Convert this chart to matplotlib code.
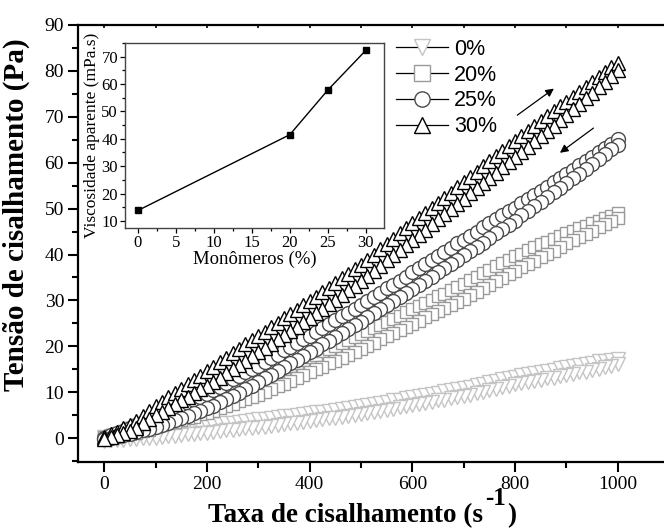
import numpy as np
import matplotlib
matplotlib.use("Agg")
import matplotlib.pyplot as plt
from matplotlib.lines import Line2D
from matplotlib.ticker import MultipleLocator

plt.rcParams['font.family'] = 'Liberation Serif'

# shear rate grid (s^-1), same points for up and down sweeps
taxa = np.linspace(0, 1000, 81)

# shear stress (Pa); one row per 100 s^-1
t0_up = [0.3, 0.4, 0.6, 0.7, 0.8, 1.0, 1.1, 1.3,
         1.4, 1.6, 1.8, 1.9, 2.1, 2.3, 2.4, 2.6,
         2.8, 2.9, 3.1, 3.3, 3.4, 3.6, 3.8, 3.9,
         4.1, 4.2, 4.4, 4.6, 4.8, 4.9, 5.1, 5.3,
         5.4, 5.6, 5.8, 6.0, 6.2, 6.4, 6.5, 6.7,
         6.9, 7.2, 7.4, 7.7, 7.9, 8.2, 8.4, 8.7,
         8.9, 9.2, 9.4, 9.7, 9.9, 10.2, 10.4, 10.7,
         10.9, 11.2, 11.5, 11.8, 12.2, 12.5, 12.8, 13.1,
         13.4, 13.7, 13.9, 14.2, 14.4, 14.7, 14.9, 15.2,
         15.4, 15.7, 15.9, 16.2, 16.4, 16.7, 16.9, 17.1,
         17.3]
t0_down = [-0.6, -0.5, -0.4, -0.3, -0.2, -0.1, 0.0, 0.1,
           0.1, 0.2, 0.4, 0.5, 0.6, 0.8, 0.9, 1.1,
           1.2, 1.4, 1.5, 1.7, 1.8, 2.0, 2.1, 2.3,
           2.4, 2.5, 2.7, 2.9, 3.0, 3.2, 3.4, 3.5,
           3.7, 3.9, 4.1, 4.3, 4.4, 4.6, 4.8, 5.0,
           5.2, 5.4, 5.7, 5.9, 6.2, 6.4, 6.7, 6.9,
           7.2, 7.4, 7.7, 7.9, 8.2, 8.4, 8.7, 8.9,
           9.2, 9.5, 9.8, 10.1, 10.4, 10.8, 11.1, 11.4,
           11.7, 12.0, 12.2, 12.5, 12.7, 13.0, 13.2, 13.5,
           13.7, 14.0, 14.3, 14.5, 14.8, 15.1, 15.4, 15.7,
           16.1]

t20_up = [0.2, 0.6, 1.1, 1.6, 2.2, 2.8, 3.4, 3.9,
          4.5, 5.0, 5.6, 6.1, 6.6, 7.1, 7.6, 8.1,
          8.5, 9.0, 9.5, 10.0, 10.5, 11.0, 11.5, 12.0,
          12.6, 13.2, 13.9, 14.5, 15.1, 15.7, 16.4, 17.0,
          17.6, 18.2, 18.9, 19.5, 20.1, 20.7, 21.4, 22.0,
          22.6, 23.3, 24.0, 24.7, 25.4, 26.0, 26.7, 27.4,
          28.1, 28.8, 29.5, 30.2, 30.9, 31.5, 32.2, 32.9,
          33.6, 34.4, 35.1, 35.9, 36.6, 37.4, 38.1, 38.9,
          39.6, 40.2, 40.9, 41.6, 42.2, 42.8, 43.4, 44.0,
          44.6, 45.2, 45.7, 46.3, 46.8, 47.3, 47.9, 48.4,
          49.0]
t20_down = [-0.1, 0.1, 0.3, 0.6, 0.9, 1.2, 1.5, 1.8,
            2.5, 2.8, 3.2, 3.5, 3.9, 4.3, 4.7, 5.2,
            5.5, 6.0, 6.5, 7.0, 7.5, 8.0, 8.5, 9.0,
            9.4, 10.0, 10.6, 11.3, 11.9, 12.5, 13.2, 13.8,
            14.4, 15.0, 15.6, 16.3, 16.9, 17.5, 18.2, 18.8,
            19.4, 20.1, 20.8, 21.5, 22.2, 22.8, 23.5, 24.2,
            24.9, 25.6, 26.3, 27.0, 27.7, 28.3, 29.0, 29.7,
            30.4, 31.2, 31.9, 32.7, 33.4, 34.2, 34.9, 35.7,
            36.4, 37.2, 37.9, 38.6, 39.4, 40.1, 40.8, 41.6,
            42.4, 43.1, 43.8, 44.5, 45.2, 45.9, 46.6, 47.3,
            48.0]

t25_up = [0.1, 0.6, 1.1, 1.6, 2.2, 2.8, 3.4, 3.9,
          4.5, 5.1, 5.8, 6.5, 7.1, 7.7, 8.4, 9.0,
          9.6, 10.4, 11.2, 12.0, 12.8, 13.5, 14.3, 15.0,
          15.8, 16.6, 17.4, 18.2, 19.1, 19.9, 20.7, 21.5,
          22.3, 23.1, 24.0, 24.8, 25.7, 26.5, 27.3, 28.2,
          29.0, 29.9, 30.8, 31.7, 32.6, 33.4, 34.3, 35.2,
          36.1, 37.0, 37.9, 38.8, 39.7, 40.6, 41.5, 42.4,
          43.2, 44.1, 45.0, 45.9, 46.8, 47.7, 48.5, 49.4,
          50.2, 51.2, 52.0, 53.0, 53.9, 54.8, 55.7, 56.6,
          57.5, 58.5, 59.4, 60.4, 61.3, 62.3, 63.2, 64.1,
          65.1]
t25_down = [-0.1, 0.1, 0.4, 0.6, 1.0, 1.3, 1.7, 2.0,
            2.5, 2.9, 3.4, 3.9, 4.4, 4.9, 5.4, 5.9,
            6.5, 7.1, 7.8, 8.5, 9.2, 9.9, 10.7, 11.4,
            12.2, 13.0, 13.8, 14.6, 15.4, 16.3, 17.1, 17.9,
            18.7, 19.5, 20.4, 21.2, 22.0, 22.9, 23.7, 24.6,
            25.4, 26.3, 27.2, 28.1, 28.9, 29.8, 30.7, 31.6,
            32.5, 33.4, 34.3, 35.2, 36.1, 37.0, 37.9, 38.8,
            39.8, 40.7, 41.6, 42.5, 43.6, 44.6, 45.5, 46.5,
            47.4, 48.5, 49.4, 50.5, 51.5, 52.5, 53.6, 54.5,
            55.5, 56.6, 57.6, 58.7, 59.8, 60.8, 61.9, 62.9,
            63.9]

t30_up = [0.2, 0.8, 1.4, 2.1, 2.8, 3.7, 4.8, 5.9,
          7.0, 7.9, 8.9, 9.8, 10.8, 11.8, 12.7, 13.6,
          14.6, 15.5, 16.6, 17.5, 18.5, 19.4, 20.4, 21.3,
          22.3, 23.2, 24.2, 25.1, 26.1, 27.0, 27.9, 28.9,
          29.8, 30.8, 31.8, 32.8, 33.8, 34.8, 35.8, 36.8,
          37.8, 38.9, 40.0, 41.2, 42.3, 43.4, 44.6, 45.7,
          46.8, 47.9, 49.0, 50.2, 51.3, 52.4, 53.5, 54.7,
          55.8, 56.9, 58.0, 59.2, 60.3, 61.4, 62.5, 63.7,
          64.8, 65.8, 66.9, 68.0, 69.1, 70.1, 71.2, 72.3,
          73.3, 74.3, 75.4, 76.5, 77.5, 78.6, 79.7, 80.8,
          81.8]
t30_down = [-0.2, 0.3, 0.6, 1.1, 1.6, 2.3, 3.2, 4.1,
            5.0, 5.8, 6.6, 7.4, 8.2, 9.0, 9.8, 10.6,
            11.4, 12.3, 13.2, 14.1, 15.0, 15.9, 16.8, 17.8,
            18.7, 19.6, 20.6, 21.5, 22.4, 23.4, 24.3, 25.3,
            26.2, 27.2, 28.2, 29.2, 30.2, 31.2, 32.2, 33.2,
            34.2, 35.3, 36.4, 37.6, 38.7, 39.8, 40.9, 42.1,
            43.2, 44.3, 45.4, 46.6, 47.7, 48.8, 49.9, 51.1,
            52.2, 53.3, 54.4, 55.6, 56.7, 57.8, 59.0, 60.1,
            61.2, 62.4, 63.5, 64.7, 65.8, 67.0, 68.1, 69.3,
            70.4, 71.6, 72.8, 74.0, 75.2, 76.4, 77.6, 78.9,
            80.2]

labels = ['0%', '20%', '25%', '30%']
markers = ['v', 's', 'o', '^']
msizes = [10.5, 9, 10, 10.5]
colors = ['#c4c4c4', '#9a9a9a', '#4a4a4a', '#000000']
series = [(t0_up, t0_down), (t20_up, t20_down), (t25_up, t25_down), (t30_up, t30_down)]

# inset: apparent viscosity vs monomer content
monomeros = [0, 20, 25, 30]
viscosidade = [13.8, 41.5, 57.8, 72.3]

fig = plt.figure(figsize=(6.64, 5.31), dpi=100)
ax = fig.add_axes([78/664, 1 - 462/531, 1 - 78/664, (462 - 25)/531])

for (up, down), m, ms, c in zip(series, markers, msizes, colors):
    ax.plot(taxa, up, linestyle='none', marker=m, ms=ms, mfc='white', mec=c, mew=1.0)
    ax.plot(taxa[::-1], down[::-1], linestyle='none', marker=m, ms=ms, mfc='white', mec=c, mew=1.0)

ax.set_xlim(-51, 1090)
ax.set_ylim(-5.2, 90)
ax.xaxis.set_major_locator(MultipleLocator(200))
ax.xaxis.set_minor_locator(MultipleLocator(100))
ax.yaxis.set_major_locator(MultipleLocator(10))
ax.yaxis.set_minor_locator(MultipleLocator(5))
ax.spines['right'].set_visible(False)
for s in ['left', 'bottom', 'top']:
    ax.spines[s].set_linewidth(1.6)
ax.tick_params(which='major', direction='out', length=7, width=1.5, labelsize=14, pad=3)
ax.tick_params(which='minor', direction='out', length=4.5, width=1.5)

# small inward ticks on the top spine
sec = ax.secondary_xaxis('top')
sec.xaxis.set_major_locator(MultipleLocator(100))
sec.tick_params(direction='in', length=2.5, width=1.2, labeltop=False)
sec.spines['top'].set_visible(False)

ax.annotate('', xy=(880, 76.5), xytext=(800, 70),
            arrowprops=dict(arrowstyle='-|>', color='black', lw=0.9, mutation_scale=12))
ax.annotate('', xy=(883, 61.8), xytext=(957, 67.9),
            arrowprops=dict(arrowstyle='-|>', color='black', lw=0.9, mutation_scale=12))

fig.text(0.025, 1 - 215/531, 'Tensão de cisalhamento (Pa)', rotation=90,
         fontsize=21, fontweight='bold', ha='center', va='center')

# x label with a large raised superscript, built from three pieces
yb = 9/531
t1 = fig.text(208/664, yb, 'Taxa de cisalhamento (s', fontsize=19.5,
              fontweight='bold', ha='left', va='baseline')
fig.canvas.draw()
r = fig.canvas.get_renderer()
x1 = t1.get_window_extent(r).x1
t2 = fig.text((x1 + 2)/664, yb + 17/531, '-1', fontsize=18,
              fontweight='bold', ha='left', va='baseline')
x2 = t2.get_window_extent(r).x1
fig.text((x2 + 1)/664, yb, ')', fontsize=19.5, fontweight='bold', ha='left', va='baseline')

handles = [Line2D([], [], color='black', lw=0.9, marker=m, ms=11, mfc='white', mec=c, mew=1.0)
           for m, c in zip(markers, colors)]
fig.legend(handles, labels, loc='upper left', bbox_to_anchor=(396/664, 1 - 39/531),
           frameon=False, handlelength=2.4, handletextpad=0.3, labelspacing=0.22,
           borderpad=0, borderaxespad=0, prop={'family': 'Liberation Sans', 'size': 15.5})

ins = fig.add_axes([125/664, 1 - 228/531, (384 - 125)/664, (228 - 43)/531])
ins.plot(monomeros, viscosidade, color='black', lw=1.0, marker='s', ms=4.5, mfc='black', mec='black')
ins.set_xlim(-1.7, 32.4)
ins.set_ylim(7.4, 75)
ins.xaxis.set_major_locator(MultipleLocator(5))
ins.xaxis.set_minor_locator(MultipleLocator(2.5))
ins.yaxis.set_major_locator(MultipleLocator(10))
ins.yaxis.set_minor_locator(MultipleLocator(5))
for s in ins.spines.values():
    s.set_color('#444444')
    s.set_linewidth(1.0)
ins.tick_params(which='major', direction='out', length=3.5, width=0.9, labelsize=12, pad=1.5)
ins.tick_params(which='minor', direction='out', length=2, width=0.9)
ins.set_xlabel('Monômeros (%)', fontsize=13.5, labelpad=0)
ins.set_ylabel('Viscosidade aparente (mPa.s)', fontsize=12.5, labelpad=1)

fig.savefig('out.png', dpi=100)
